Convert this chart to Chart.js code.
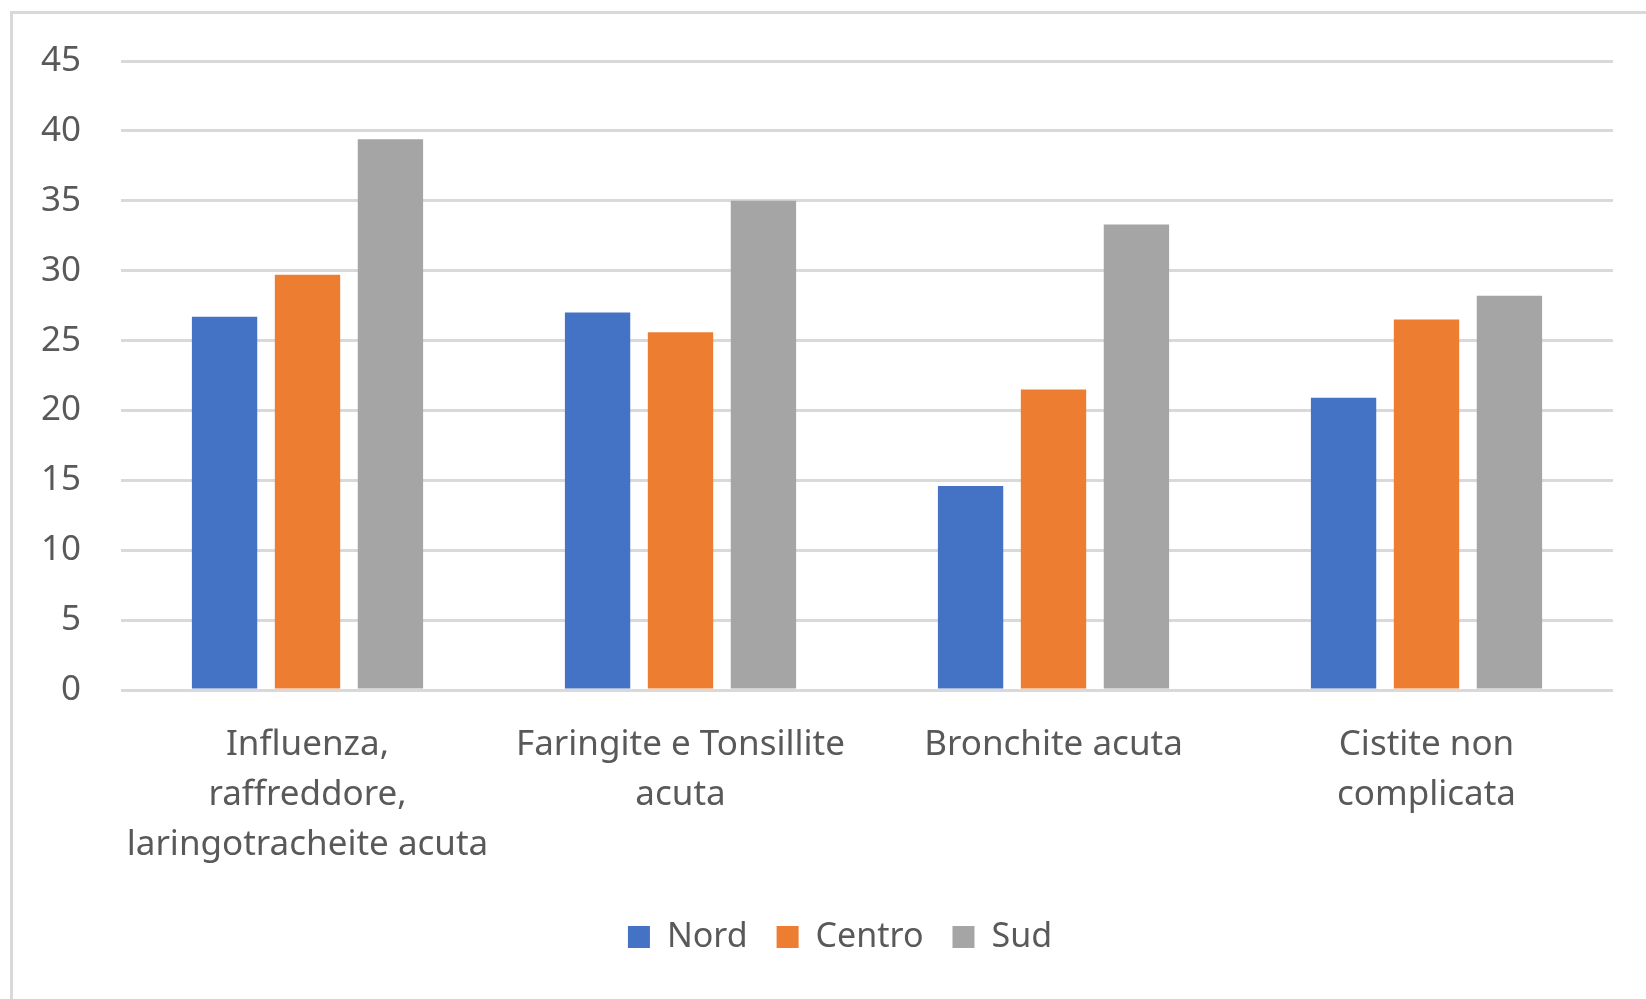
<!DOCTYPE html>
<html lang="it">
<head>
<meta charset="utf-8">
<title>Prescrizioni per area geografica</title>
<script src="https://cdn.jsdelivr.net/npm/chart.js@4.4.1/dist/chart.umd.min.js"></script>
<style>
  html, body { margin: 0; padding: 0; background: #ffffff; overflow: hidden; }
  #wrap { position: relative; width: 1646px; height: 999px; }
  #frame {
    position: absolute; left: 10px; top: 11px;
    width: 1700px; height: 1100px;
    border: 3px solid #d9d9d9; box-sizing: border-box;
  }
  #chart { position: absolute; left: 0; top: 0; }
</style>
</head>
<body>
<div id="wrap">
  <div id="frame"></div>
  <canvas id="chart" width="1646" height="999"></canvas>
</div>
<script>
// Categorie (diagnosi) e valori per area geografica
const categories = [
  ["Influenza,", "raffreddore,", "laringotracheite acuta"],
  ["Faringite e Tonsillite", "acuta"],
  ["Bronchite acuta"],
  ["Cistite non", "complicata"]
];
const nord   = [26.7, 27.0, 14.6, 20.9];
const centro = [29.7, 25.6, 21.5, 26.5];
const sud    = [39.4, 35.0, 33.3, 28.2];

const yMax = 45;
const yStep = 5;

const textColor = '#595959';
const gridColor = '#d9d9d9';
const fontFamily = '"Noto Sans", "Open Sans", sans-serif';

// Place the legend block around a fixed horizontal centre
const legendCentre = 840;
const legendCentering = {
  id: 'legendCentering',
  beforeDraw(chart) {
    const lg = chart.legend;
    if (!lg || lg._centered) return;
    const shift = legendCentre - (lg.left + lg.right) / 2;
    lg.left += shift;
    lg.right += shift;
    lg._centered = true;
  }
};

new Chart(document.getElementById('chart'), {
  type: 'bar',
  data: {
    labels: categories,
    datasets: [
      { label: 'Nord',   data: nord,   backgroundColor: '#4472C4' },
      { label: 'Centro', data: centro, backgroundColor: '#ED7D31' },
      { label: 'Sud',    data: sud,    backgroundColor: '#A5A5A5' }
    ]
  },
  plugins: [legendCentering],
  options: {
    responsive: false,
    animation: false,
    events: [],
    datasets: {
      bar: { categoryPercentage: 0.667, barPercentage: 0.788 }
    },
    layout: { padding: { top: 61, right: 33, bottom: 35, left: 0 } },
    plugins: {
      tooltip: { enabled: false },
      legend: {
        position: 'bottom',
        labels: {
          color: textColor,
          font: { family: fontFamily, size: 34 },
          boxWidth: 22,
          boxHeight: 22,
          padding: 29
        }
      }
    },
    scales: {
      x: {
        grid: { display: false, drawTicks: false },
        border: { display: false },
        ticks: {
          color: textColor,
          font: { family: fontFamily, size: 35, lineHeight: 1.43 },
          padding: 30,
          maxRotation: 0,
          autoSkip: false
        },
        afterFit: (axis) => { axis.height = 201; }
      },
      y: {
        min: 0,
        max: yMax,
        grid: { color: gridColor, lineWidth: 3, drawTicks: false },
        border: { display: false },
        ticks: {
          stepSize: yStep,
          color: textColor,
          font: { family: fontFamily, size: 35 },
          padding: 40
        },
        afterFit: (axis) => { axis.width = 121; }
      }
    }
  }
});
</script>
</body>
</html>
